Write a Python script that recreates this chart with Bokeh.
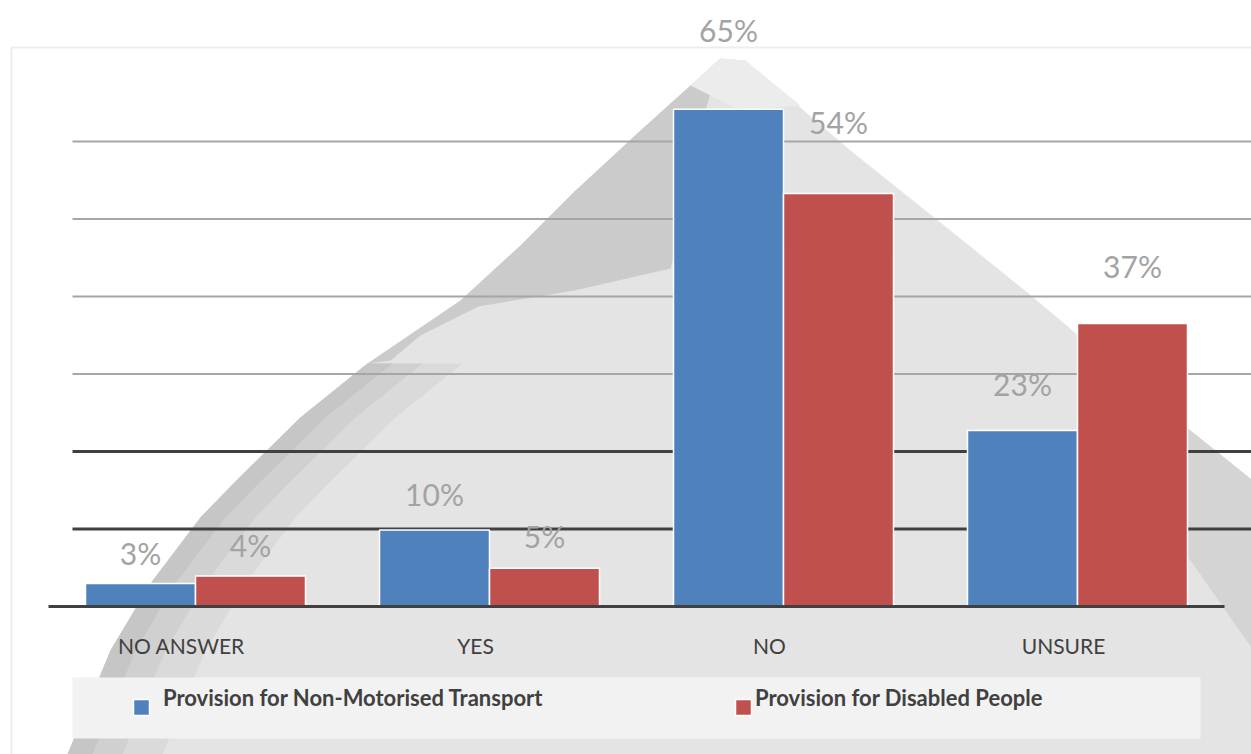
from bokeh.plotting import figure
from bokeh.models import (Range1d, FixedTicker, LinearAxis, Legend, LegendItem,
                          BoxAnnotation, ColumnDataSource)
from bokeh.transform import dodge
from bokeh.embed import file_html
from bokeh.resources import INLINE

# ---------------- data ----------------
categories = ["NO ANSWER", "YES", "NO", "UNSURE"]
non_motorised = [3, 10, 65, 23]
disabled = [4, 5, 54, 37]
series_names = ["Provision for Non-Motorised Transport", "Provision for Disabled People"]
grid_levels = [10, 20, 30, 40, 50, 60]

# ---------------- layout (pixels) ----------------
W, H = 1251, 754
X0_PX = 48        # left end of category axis
CAT_PX = 294      # width of one category
Y0_PX = 606       # baseline
UNIT_BAR = 7.65   # pixels per percentage point for the bars
UNIT_GRID = 7.75  # pixels per percentage point for the gridlines
BAR_W = 110 / CAT_PX
LAB_A, LAB_B = 1.09, 3.6   # value labels sit on a stretched scale (grid units)
CAT_DX = -14 / CAT_PX      # category labels sit slightly left of group centres


def xd(px):
    return (px - X0_PX) / CAT_PX


def yd(py):
    return (Y0_PX - py) / UNIT_BAR


BLUE = "#4F81BD"
RED = "#C0504D"
TXT = "#404040"

p = figure(width=W, height=H,
           x_range=Range1d(xd(0), xd(W)), y_range=Range1d(yd(H), yd(0)),
           x_axis_type=None, y_axis_type=None,
           output_backend="svg", toolbar_location=None, min_border=0)
p.outline_line_color = None
p.background_fill_color = "white"
p.border_fill_color = "white"

g_lo, g_hi = (Y0_PX - H) / UNIT_GRID, Y0_PX / UNIT_GRID
p.extra_y_ranges = {
    "grid": Range1d(g_lo, g_hi),
    "lab": Range1d((g_lo - LAB_B) / LAB_A, (g_hi - LAB_B) / LAB_A),
}

xs = [i + 0.5 for i in range(len(categories))]
src = ColumnDataSource(dict(
    x=xs, cat=categories, a=non_motorised, b=disabled,
    a_lab=[f"{v}%" for v in non_motorised],
    b_lab=[f"{v}%" for v in disabled],
))

# outer frame
p.add_layout(BoxAnnotation(left=xd(11), top=yd(47), right=xd(W + 30), bottom=yd(H + 30),
                           fill_alpha=0, line_color="#c4c4c4", line_width=2, level="underlay"))


# ---------- grey backdrop shape of the slide (decoration, pixel outline) ----------
def draw_poly(pts, color, alpha=1.0):
    p.patch(x=[xd(a) for a, b in pts], y=[yd(b) for a, b in pts],
            fill_color=color, fill_alpha=alpha, line_color=None)


left_lower = [(60, 775), (67, 754), (110, 650), (150, 583), (200, 517), (233, 483),
              (300, 417), (367, 363)]
left_upper = [(367, 363), (460, 300), (520, 245), (574, 191), (640, 130), (690, 85), (720, 58)]
right_edge = [(745, 60), (850, 150), (950, 230), (1033, 297), (1190, 430), (1260, 486),
              (1260, 775)]
draw_poly(left_lower + left_upper[1:] + right_edge, "#e4e4e4")
# shading along the left edge
for d, col in ((95, "#dadada"), (55, "#d0d0d0"), (25, "#c6c6c6")):
    inner = [(a + d, b) for a, b in reversed(left_lower)]
    draw_poly(left_lower + inner, col)
draw_poly(left_upper + [(705, 110), (690, 200), (670, 268), (574, 290), (478, 306),
                        (420, 335), (390, 360)], "#cbcbcb")
# light haze at the summit
draw_poly([(690, 85), (720, 58), (745, 60), (800, 105), (740, 110)], "#ececec")
# shading along the right edge
draw_poly([(1100, 356), (1190, 430), (1260, 486), (1260, 660), (1190, 560), (1100, 470)],
          "#d4d4d4")

# legend background box
p.quad(left=xd(72), right=xd(1200), top=yd(677), bottom=yd(738),
       fill_color="#f2f2f2", line_color=None)

# gridlines
g_colors = ["#404040" if g <= 20 else "#a6a6a6" for g in grid_levels]
g_widths = [3 if g <= 20 else 2 for g in grid_levels]
p.segment(x0=xd(72), x1=xd(W), y0=grid_levels, y1=grid_levels,
          line_color=g_colors, line_width=g_widths, y_range_name="grid")

# bars
r1 = p.vbar(x=dodge("x", -BAR_W / 2, range=p.x_range), top="a", bottom=0, width=BAR_W,
            source=src, fill_color=BLUE, line_color="white", line_width=1.5)
r2 = p.vbar(x=dodge("x", BAR_W / 2, range=p.x_range), top="b", bottom=0, width=BAR_W,
            source=src, fill_color=RED, line_color="white", line_width=1.5)
# invisible renderer used for text-only legend entries
r_blank = p.vbar(x=[], top=[], width=0.1, fill_alpha=0, line_alpha=0)

# value labels
for col, ycol, off in (("a_lab", "a", -BAR_W / 2), ("b_lab", "b", BAR_W / 2)):
    p.text(x=dodge("x", off, range=p.x_range), y=ycol, text=col, source=src,
           y_range_name="lab", text_align="center", text_baseline="middle",
           text_font={"value": "Lato"}, text_font_size="30px", text_color="#a3a3a3")

# category axis at baseline
ticks = [x + CAT_DX for x in xs]
xaxis = LinearAxis(fixed_location=0,
                   ticker=FixedTicker(ticks=ticks),
                   major_label_overrides={t: c for t, c in zip(ticks, categories)},
                   bounds=(0, len(categories)))
xaxis.axis_line_color = TXT
xaxis.axis_line_width = 3
xaxis.major_tick_line_color = None
xaxis.minor_tick_line_color = None
xaxis.major_label_standoff = 20
xaxis.major_label_text_font = "Lato"
xaxis.major_label_text_font_size = "21px"
xaxis.major_label_text_color = TXT
p.add_layout(xaxis, "below")

# legends: swatches and their texts (texts sit a little above the swatches)
common = dict(orientation="horizontal", padding=0, margin=0,
              border_line_color=None, background_fill_alpha=0,
              label_text_font="Lato", label_text_font_style="bold",
              label_text_font_size="22px", label_text_color=TXT, label_height=20)
for r, name, gx, tx in ((r1, series_names[0], 131, 163), (r2, series_names[1], 733, 755)):
    p.add_layout(Legend(items=[LegendItem(label=" ", renderers=[r])],
                        location=(gx, 37), glyph_width=20, glyph_height=20,
                        label_standoff=0, **common))
    p.add_layout(Legend(items=[LegendItem(label=name, renderers=[r_blank])],
                        location=(tx, 43), glyph_width=0, glyph_height=15,
                        label_standoff=0, **common))

open("out.html", "w").write(file_html(p, INLINE))
